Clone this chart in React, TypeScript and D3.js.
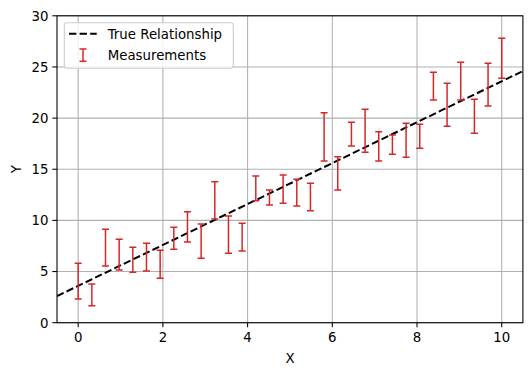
import React from "react";
import * as d3 from "d3";

const N = 32;
const xValues: number[] = Array.from({ length: N }, (_, i) => (i * 10) / (N - 1));
const lowValues: number[] = [2.32, 1.66, 5.54, 5.15, 4.93, 5.05, 4.34, 7.17, 7.89, 6.3, 10.14, 6.78, 7.01, 11.93, 11.5, 11.67, 11.41, 10.95, 15.81, 12.97, 17.27, 16.66, 15.81, 16.46, 16.17, 17.05, 21.77, 19.2, 21.77, 18.51, 21.18, 23.89];
const highValues: number[] = [5.81, 3.78, 9.13, 8.15, 7.37, 7.76, 7.08, 9.33, 10.85, 9.65, 13.78, 10.43, 9.72, 14.34, 12.97, 14.44, 14.02, 13.63, 20.53, 16.23, 19.59, 20.86, 18.67, 18.35, 19.49, 19.39, 24.48, 23.4, 25.45, 21.84, 25.36, 27.8];
const slope = 2;
const intercept = 3.6;
const xTicks: number[] = [0, 2, 4, 6, 8, 10];
const yTicks: number[] = [0, 5, 10, 15, 20, 25, 30];
const lineDomain: number[] = [-0.5, 10.5];

const W = 531;
const H = 376;
const L = 57;
const R = 522.9;
const T = 15.8;
const B = 322.7;
const FONT = "DejaVu Sans";
const FS = 13.33;
const RED = "#d62728";

export default function App() {
  const x = d3.scaleLinear().domain([-0.5, 10.5]).range([L, R]);
  const y = d3.scaleLinear().domain([0, 30]).range([B, T]);
  const line = d3
    .line<number>()
    .x((d) => x(d))
    .y((d) => y(slope * d + intercept));
  const cap = 3.5;
  return (
    <svg
      width={W}
      height={H}
      style={{ position: "absolute", left: 0, top: 0, background: "#fff" }}
      fontFamily={FONT}
    >
      <rect x={0} y={0} width={W} height={H} fill="#fff" />
      <defs>
        <clipPath id="plot">
          <rect x={L} y={T} width={R - L} height={B - T} />
        </clipPath>
      </defs>
      {xTicks.map((t) => (
        <line key={"gx" + t} x1={x(t)} x2={x(t)} y1={T} y2={B} stroke="#b0b0b0" strokeWidth={1.07} />
      ))}
      {yTicks.map((t) => (
        <line key={"gy" + t} x1={L} x2={R} y1={y(t)} y2={y(t)} stroke="#b0b0b0" strokeWidth={1.07} />
      ))}
      <g clipPath="url(#plot)">
        <path
          d={line(lineDomain) || ""}
          stroke="#000"
          strokeWidth={2}
          strokeDasharray="7.4 3.2"
          fill="none"
        />
        {xValues.map((xv, i) => {
          const cx = x(xv);
          const y1 = y(highValues[i]);
          const y2 = y(lowValues[i]);
          return (
            <g key={"e" + i} stroke={RED} strokeWidth={1.5}>
              <line x1={cx} x2={cx} y1={y1} y2={y2} />
              <line x1={cx - cap} x2={cx + cap} y1={y1} y2={y1} />
              <line x1={cx - cap} x2={cx + cap} y1={y2} y2={y2} />
            </g>
          );
        })}
      </g>
      <rect x={L} y={T} width={R - L} height={B - T} fill="none" stroke="#000" strokeWidth={1.07} />
      {xTicks.map((t) => (
        <g key={"tx" + t}>
          <line x1={x(t)} x2={x(t)} y1={B} y2={B + 4.67} stroke="#000" strokeWidth={1.07} />
          <text x={x(t)} y={B + 19.3} fontSize={FS} textAnchor="middle" fill="#000">
            {t}
          </text>
        </g>
      ))}
      {yTicks.map((t) => (
        <g key={"ty" + t}>
          <line x1={L - 4.67} x2={L} y1={y(t)} y2={y(t)} stroke="#000" strokeWidth={1.07} />
          <text x={L - 8.5} y={y(t) + 4.8} fontSize={FS} textAnchor="end" fill="#000">
            {t}
          </text>
        </g>
      ))}
      <text x={(L + R) / 2} y={363} fontSize={FS} textAnchor="middle" fill="#000">
        X
      </text>
      <text
        transform={`translate(20.5, ${(T + B) / 2}) rotate(-90)`}
        fontSize={FS}
        textAnchor="middle"
        fill="#000"
      >
        Y
      </text>
      <g>
        <rect x={64.3} y={22.7} width={169} height={45.6} rx={2.8} fill="#fff" fillOpacity={0.8} stroke="#cccccc" strokeWidth={1.07} />
        <line x1={69} x2={96.7} y1={33.7} y2={33.7} stroke="#000" strokeWidth={2} strokeDasharray="7.4 3.2" />
        <text x={107.7} y={38.5} fontSize={FS} fill="#000">
          True Relationship
        </text>
        <g stroke={RED} strokeWidth={1.5}>
          <line x1={83} x2={83} y1={49} y2={61.3} />
          <line x1={83 - cap} x2={83 + cap} y1={49} y2={49} />
          <line x1={83 - cap} x2={83 + cap} y1={61.3} y2={61.3} />
        </g>
        <text x={107.7} y={59.5} fontSize={FS} fill="#000">
          Measurements
        </text>
      </g>
    </svg>
  );
}
